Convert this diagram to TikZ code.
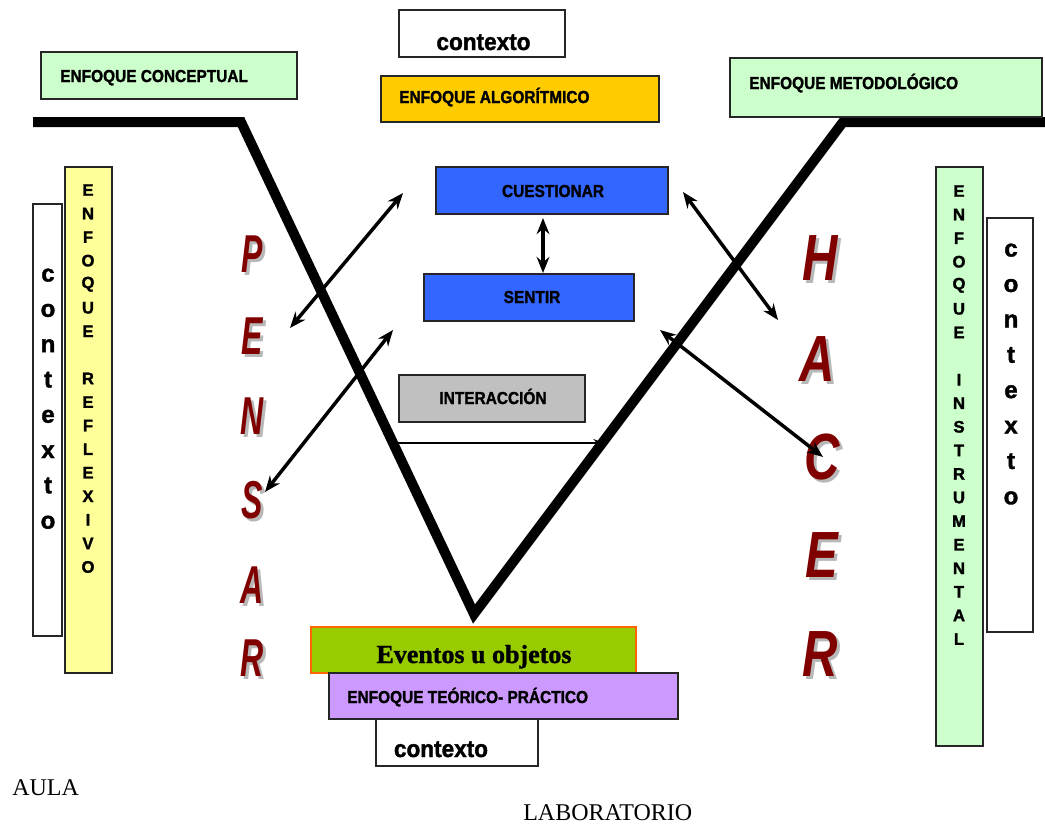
\documentclass[tikz,border=0pt]{standalone}
\usepackage{fontspec}
\setmainfont{Liberation Serif}
\setsansfont{Liberation Sans}
\newfontfamily\hvsans[FakeBold=1.6]{Liberation Sans Bold}
\newfontfamily\hvserif[FakeBold=1.2]{Liberation Serif Bold}
\usepackage{graphicx}
\usetikzlibrary{arrows.meta}
\definecolor{lgreen}{HTML}{CCFFCC}
\definecolor{gold}{HTML}{FFCC00}
\definecolor{lyellow}{HTML}{FFFF99}
\definecolor{qblue}{HTML}{3366FF}
\definecolor{qgray}{HTML}{C0C0C0}
\definecolor{egreen}{HTML}{99CC00}
\definecolor{eorange}{HTML}{FF6600}
\definecolor{lpurple}{HTML}{CC99FF}
\definecolor{dred}{HTML}{800000}
\newcommand\cond[1]{\scalebox{0.89}[1]{#1}}
\newcommand\pbox[7][]{\node[box,#7,minimum width={(#4-#2)*0.75pt},minimum height={(#5-#3)*0.75pt},#1] (#6) at ({(#2+#4)/2},{(#3+#5)/2}) {};}
\tikzset{
  box/.style={draw=black!85, line width=1.2pt, inner sep=0pt, rectangle},
  lbl/.style={font=\hvsans\fontsize{13}{13}\selectfont, inner sep=0pt},
  ctx/.style={font=\hvsans\fontsize{18}{18}\selectfont, inner sep=0pt, anchor=base},
  vlet/.style={font=\hvsans\fontsize{12.5}{12.5}\selectfont, inner sep=0pt},
  clet/.style={font=\hvsans\fontsize{18}{18}\selectfont, inner sep=0pt, anchor=base},
  pbig/.style={font=\sffamily\bfseries\itshape\fontsize{40}{40}\selectfont, inner sep=0pt, text=dred},
  hbig/.style={font=\sffamily\bfseries\itshape\fontsize{49}{49}\selectfont, inner sep=0pt, text=dred},
  shad/.style={text=black!28},
  dbl/.style={{Stealth[length=12pt,width=9.5pt]}-{Stealth[length=12pt,width=9.5pt]}, line width=2.6pt},
  tharrow/.style={-{Stealth[length=8pt,width=6pt]}, line width=1.2pt},
  vline/.style={line width=7.5pt, line join=miter},
  roomlbl/.style={font=\rmfamily\fontsize{18}{18}\selectfont, inner sep=0pt, anchor=base west},
}
\begin{document}
\begin{tikzpicture}[x=0.75pt,y=-0.75pt]
\useasboundingbox (0,0) rectangle (1045,825);

% thick V
\coordinate (hl) at (33,122);
\coordinate (vl) at (241,122);
\coordinate (vb) at (474,614);
\coordinate (vr) at (843,122);
\coordinate (hr) at (1045,122);
\draw[vline] (hl) -- (vl) -- (vb) -- (vr) -- (hr);

% top boxes
\pbox{399}{10}{565}{57}{ctxTop}{fill=white}
\node[ctx] (ctxTopT) at (483.5,50) {\scalebox{0.94}[1]{contexto}};
\pbox{41}{52}{297}{99}{conc}{fill=lgreen}
\node[lbl, anchor=base west] (concT) at (60,82) {\cond{ENFOQUE CONCEPTUAL}};
\pbox{381}{76}{659}{122}{algo}{fill=gold}
\node[lbl, anchor=base west] (algoT) at (399,103) {\cond{ENFOQUE ALGORÍTMICO}};
\pbox{730}{58}{1042}{117}{meto}{fill=lgreen}
\node[lbl, anchor=base west] (metoT) at (749,89) {\cond{ENFOQUE METODOLÓGICO}};

% left columns
\pbox{33}{204}{62}{636}{ctxL}{fill=white}
\pbox{65}{167}{112}{673}{refl}{fill=lyellow}
\foreach \c [count=\i] in {E,N,F,O,Q,U,E,{},R,E,F,L,E,X,I,V,O}
  \node[vlet] (rl\i) at (88,{190+(\i-1)*23.56}) {\c};
\foreach \c [count=\i] in {c,o,n,t,e,x,t,o}
  \node[clet] (cl\i) at (48,{281.5+(\i-1)*35.3}) {\c};

% right columns
\pbox{936}{167}{983}{746}{instr}{fill=lgreen}
\foreach \c [count=\i] in {E,N,F,O,Q,U,E,{},I,N,S,T,R,U,M,E,N,T,A,L}
  \node[vlet] (ri\i) at (959,{191+(\i-1)*23.58}) {\c};
\pbox{987}{218}{1033}{632}{ctxR}{fill=white}
\foreach \c [count=\i] in {c,o,n,t,e,x,t,o}
  \node[clet] (cr\i) at (1011,{256.5+(\i-1)*35.4}) {\c};

% PENSAR
\foreach \c/\yy [count=\i] in {P/254,E/336,N/416,S/500,A/585,R/658}{
  \node[pbig, shad] (ps\i) at (255,\yy+3) {\scalebox{0.6}[1]{\c}};
  \node[pbig] (p\i) at (252,\yy) {\scalebox{0.6}[1]{\c}};
}
% HACER
\foreach \c/\xx/\yy [count=\i] in {H/820/258,A/817/359,C/822/457,E/822/555,R/820/654}{
  \node[hbig, shad] (hs\i) at (\xx+3,\yy+3) {\scalebox{0.75}[1]{\c}};
  \node[hbig] (h\i) at (\xx,\yy) {\scalebox{0.75}[1]{\c}};
}

% centre boxes
\pbox{436}{167}{668}{214}{cuest}{fill=qblue}
\node[lbl, anchor=base] (cuestT) at (553,197) {\cond{CUESTIONAR}};
\pbox{424}{274}{634}{321}{sentir}{fill=qblue}
\node[lbl, anchor=base] (sentirT) at (532,303) {\cond{SENTIR}};
\pbox{399}{375}{585}{422}{inter}{fill=qgray}
\node[lbl, anchor=base] (interT) at (493,404) {\cond{INTERACCIÓN}};

% arrows
\coordinate (a1a) at (403,193); \coordinate (a1b) at (290,328);
\coordinate (a2a) at (393,330); \coordinate (a2b) at (265,492);
\coordinate (a3a) at (683,192); \coordinate (a3b) at (778,320);
\coordinate (a4a) at (660,330); \coordinate (a4b) at (823,457);
\draw[dbl] (a1a) -- (a1b);
\draw[dbl] (a2a) -- (a2b);
\draw[dbl] (a3a) -- (a3b);
\draw[dbl] (a4a) -- (a4b);
\coordinate (cs1) at (543,218); \coordinate (cs2) at (543,273);
\draw[dbl] (cs1) -- (cs2);
\coordinate (t1) at (393,443); \coordinate (t2) at (604,443);
\draw[tharrow] (t1) -- (t2);

% bottom boxes
\pbox{311}{627}{636}{673}{event}{fill=egreen, draw=eorange, line width=0.9pt}
\node[font=\hvserif\fontsize{19.5}{19.5}\selectfont, inner sep=0pt, anchor=base] (eventT) at (474,663) {Eventos u objetos};
\pbox{329}{673}{678}{719}{teor}{fill=lpurple}
\node[lbl, anchor=base west] (teorT) at (347,703) {\cond{ENFOQUE TEÓRICO- PRÁCTICO}};
\pbox{376}{719}{538}{766}{ctxB}{fill=white}
\node[ctx] (ctxBT) at (441,757) {\scalebox{0.94}[1]{contexto}};

% room labels
\node[roomlbl] (aula) at (12,795) {AULA};
\node[roomlbl] (lab) at (523,820) {LABORATORIO};
\end{tikzpicture}
\end{document}
